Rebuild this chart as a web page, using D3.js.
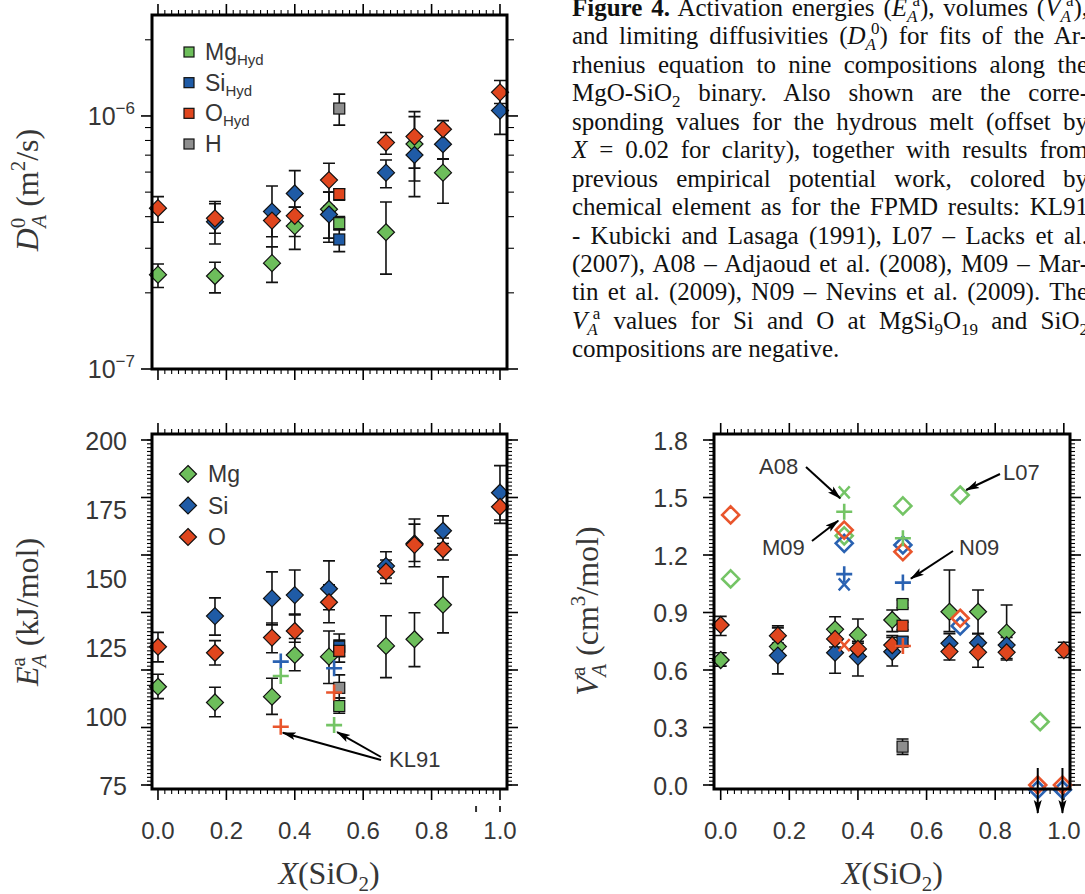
<!DOCTYPE html>
<html>
<head>
<meta charset="utf-8">
<script src="https://cdn.jsdelivr.net/npm/d3@7"></script>
<style>
  body { margin: 0; background: #fff; overflow: hidden; }
  svg { position: absolute; left: 0; top: 0; }
  .cap { position: absolute; left: 572px; top: -6px; font-family: "Liberation Serif", "Times New Roman", serif;
         font-size: 25px; color: #111; }
  .cap div { white-space: nowrap; width: 516px; height: 28.45px; line-height: 28.45px;
             text-align: justify; text-align-last: justify; }
  .cap div.last { text-align-last: left; }
  .cap .sb { font-size: 17px; position: relative; top: 6px; line-height: 0; }
  .cap .sp { font-size: 17px; position: relative; top: -10px; line-height: 0; margin-left: -5px; }
</style>
</head>
<body>
<script>
// compositions X(SiO2) of the nine FPMD melts, hydrous melt is offset
const comps = [0, 1/6, 1/3, 0.4, 0.5, 2/3, 0.75, 5/6, 1.0];
const hydX = 0.53;

// D_A^0 in units of 1e-7 m2/s
const d0Mg   = [2.36, 2.33, 2.62, 3.67, 4.28, 3.47, 7.75, 5.97, null];
const d0MgLo = [2.10, 2.00, 2.20, 2.97, 3.29, 2.37, 5.53, 4.52, null];
const d0MgHi = [2.60, 2.64, 3.04, 4.36, 5.00, 4.57, 9.94, 6.77, null];
const d0Si   = [null, 3.82, 4.19, 4.94, 4.08, 5.97, 7.01, 7.73, 10.5];
const d0SiLo = [null, 3.12, 3.33, 4.36, 3.17, 5.20, 4.80, 6.74, 8.46];
const d0SiHi = [null, 4.50, 5.29, 6.08, 5.00, 6.70, 8.40, 8.80, 12.6];
const d0O    = [4.32, 3.94, 3.86, 4.03, 5.58, 7.85, 8.29, 8.86, 12.4];
const d0OLo  = [3.80, 3.44, 3.04, 3.34, 4.40, 7.06, 6.22, 7.90, 11.2];
const d0OHi  = [4.80, 4.59, 4.30, 4.36, 6.50, 8.60, 10.4, 9.58, 13.8];
// hydrous melt: H, Mg, Si, O
const hydEls  = ['H', 'Mg', 'Si', 'O'];
const hydD0   = [10.7, 3.77, 3.25, 4.91];
const hydD0Lo = [9.2, 3.55, 2.91, 4.65];
const hydD0Hi = [12.2, 4.00, 3.55, 5.15];

// E_A^a in kJ/mol
const eaMg   = [110.6, 104.9, 107.0, 122.1, 121.5, 125.4, 127.8, 140.3, null];
const eaMgLo = [106.3, 99.7, 100.6, 116.4, 111.8, 113.9, 117.9, 130.1, null];
const eaMgHi = [115.1, 110.4, 113.7, 128.1, 130.8, 136.3, 137.4, 150.4, null];
const eaSi   = [null, 136.2, 142.6, 143.8, 146.1, 154.3, 162.5, 167.1, 180.9];
const eaSiLo = [null, 129.3, 133.0, 136.6, 138.5, 150.0, 156.0, 162.5, 171.0];
const eaSiHi = [null, 142.8, 152.2, 152.9, 156.2, 159.5, 171.4, 172.5, 190.7];
const eaO    = [125.1, 122.9, 128.4, 130.8, 141.2, 152.3, 162.0, 160.4, 175.8];
const eaOLo  = [119.6, 118.5, 122.9, 126.7, 133.8, 148.0, 154.1, 156.5, 169.8];
const eaOHi  = [130.3, 127.3, 133.7, 136.9, 147.5, 156.5, 169.5, 164.5, 181.5];
const hydEa   = [110.2, 103.6, 125.1, 123.6];
const hydEaLo = [106.5, 101.0, 121.5, 119.5];
const hydEaHi = [114.9, 106.5, 129.7, 127.5];

// V_A^a in cm3/mol
const vaMg   = [0.652, 0.722, 0.812, 0.783, 0.861, 0.904, 0.904, 0.795, null];
const vaMgLo = [0.62, 0.68, 0.76, 0.72, 0.80, 0.80, 0.79, 0.66, null];
const vaMgHi = [0.69, 0.76, 0.878, 0.866, 0.913, 1.122, 1.017, 0.939, null];
const vaSi   = [null, 0.675, 0.690, 0.670, 0.695, 0.739, 0.742, 0.730, null];
const vaSiLo = [null, 0.58, 0.583, 0.569, 0.621, 0.70, 0.70, 0.69, null];
const vaSiHi = [null, 0.83, 0.76, 0.74, 0.77, 0.79, 0.79, 0.77, null];
const vaO    = [0.835, 0.779, 0.762, 0.710, 0.730, 0.696, 0.692, 0.692, 0.704];
const vaOLo  = [0.78, 0.74, 0.72, 0.67, 0.69, 0.652, 0.614, 0.652, 0.665];
const vaOHi  = [0.88, 0.82, 0.80, 0.75, 0.78, 0.74, 0.75, 0.73, 0.745];
const hydVa   = [0.20, 0.944, 0.748, 0.831];
const hydVaLo = [0.16, 0.925, 0.73, 0.81];
const hydVaHi = [0.24, 0.965, 0.77, 0.85];

// previous empirical potential work
const kl91X  = [0.359, 0.359, 0.359, 0.515, 0.515, 0.515];
const kl91El = ['Si', 'Mg', 'O', 'Si', 'O', 'Mg'];
const kl91Ea = [119.7, 114.5, 96.1, 117.3, 108.5, 96.7];

const l07X  = [0.029, 0.029, 0.36, 0.36, 0.36, 0.531, 0.531, 0.531, 0.698, 0.698, 0.698, 0.931, 0.924, 0.924, 0.996, 0.996];
const l07El = ['Mg', 'O', 'Mg', 'Si', 'O', 'Mg', 'Si', 'O', 'Mg', 'Si', 'O', 'Mg', 'Si', 'O', 'Si', 'O'];
const l07Va = [1.075, 1.409, 1.30, 1.261, 1.33, 1.456, 1.252, 1.217, 1.513, 0.830, 0.870, 0.33, -0.025, 0, -0.025, 0];

const a08X  = [0.36, 0.36, 0.36];
const a08El = ['Mg', 'Si', 'O'];
const a08Va = [1.527, 1.047, 0.73];

const m09X  = [0.36, 0.36];
const m09El = ['Mg', 'Si'];
const m09Va = [1.426, 1.10];

const n09X  = [0.531, 0.531, 0.531];
const n09El = ['Mg', 'Si', 'O'];
const n09Va = [1.287, 1.056, 0.725];

// ticks
const xTickVals = [0, 0.2, 0.4, 0.6, 0.8, 1.0];
const xTickLabels = ['0.0', '0.2', '0.4', '0.6', '0.8', '1.0'];
const eaTickVals = [75, 100, 125, 150, 175, 200];
const vaTickVals = [0, 0.3, 0.6, 0.9, 1.2, 1.5, 1.8];
const d0TickExp = [-7, -6];

const captionLines = [
  '<b>Figure 4.</b> Activation energies (<i>E</i><span class="sb"><i>A</i></span><span class="sp">a</span>), volumes (<i>V</i><span class="sb"><i>A</i></span><span class="sp">a</span>),',
  'and limiting diffusivities (<i>D</i><span class="sb"><i>A</i></span><span class="sp">0</span>) for fits of the Ar-',
  'rhenius equation to nine compositions along the',
  'MgO-SiO<span class="sb">2</span> binary. Also shown are the corre-',
  'sponding values for the hydrous melt (offset by',
  '<i>X</i> = 0.02 for clarity), together with results from',
  'previous empirical potential work, colored by',
  'chemical element as for the FPMD results: KL91',
  '- Kubicki and Lasaga (1991), L07 – Lacks et al.',
  '(2007), A08 – Adjaoud et al. (2008), M09 – Mar-',
  'tin et al. (2009), N09 – Nevins et al. (2009). The',
  '<i>V</i><span class="sb"><i>A</i></span><span class="sp">a</span> values for Si and O at MgSi<span class="sb">9</span>O<span class="sb">19</span> and SiO<span class="sb">2</span>',
  'compositions are negative.'
];

const fill = { Mg: '#6dbe5b', Si: '#1f5ba6', O: '#e0461e', H: '#8e8e8e' };
const line = { Mg: '#74c465', Si: '#2a62b2', O: '#e9552c' };
const sans = '"Liberation Sans", Arial, Helvetica, sans-serif';
const serif = '"Liberation Serif", "Times New Roman", serif';
const txt = '#363636';

const svg = d3.select('body').append('svg').attr('width', 1085).attr('height', 894);
const defs = svg.append('defs');
defs.append('marker').attr('id', 'arr').attr('viewBox', '0 0 14 10')
  .attr('refX', 13).attr('refY', 5).attr('markerWidth', 14).attr('markerHeight', 10)
  .attr('markerUnits', 'userSpaceOnUse').attr('orient', 'auto')
  .append('path').attr('d', 'M0,1 L14,5 L0,9 L3,5 Z').attr('fill', '#000');

// scales
const xL = d3.scaleLinear().domain([-0.0175, 1.0205]).range([152, 507]);
const xR = d3.scaleLinear().domain([-0.0195, 1.018]).range([714, 1070]);
const yD = d3.scaleLog().domain([1e-7, 2.506e-6]).range([369, 15]);
const yE = d3.scaleLinear().domain([73.55, 202.17]).range([789, 434]);
const yV = d3.scaleLinear().domain([-0.0209, 1.8313]).range([789, 434]);

function series(vals, lo, hi, el, k) {
  return comps.map((c, i) => ({ x: c, v: vals[i], lo: lo[i], hi: hi[i], el }))
    .filter(d => d.v != null)
    .map(d => ({ ...d, v: d.v * k, lo: d.lo * k, hi: d.hi * k }));
}
function hydSeries(vals, lo, hi, k) {
  return hydEls.map((el, i) => ({ x: hydX, v: vals[i] * k, lo: lo[i] * k, hi: hi[i] * k, el }));
}

function frame(g, x, y) {
  const [xa, xb] = x.range(), [yb, ya] = y.range();
  g.append('rect').attr('x', xa).attr('y', ya).attr('width', xb - xa).attr('height', yb - ya)
    .attr('fill', 'none').attr('stroke', '#000').attr('stroke-width', 3);
}

function xTicks(g, x, y) {
  const [yb, ya] = y.range();
  const minor = d3.range(0, 51).map(k => k * 0.02).filter(v => !xTickVals.some(m => Math.abs(m - v) < 1e-6));
  const t = g.append('g').attr('stroke', '#000');
  const put = (vals, len, w) => {
    t.append('g').selectAll('line').data(vals).join('line')
      .attr('x1', d => x(d)).attr('x2', d => x(d)).attr('y1', yb).attr('y2', yb + len).attr('stroke-width', w);
    t.append('g').selectAll('line').data(vals).join('line')
      .attr('x1', d => x(d)).attr('x2', d => x(d)).attr('y1', ya).attr('y2', ya - len).attr('stroke-width', w);
  };
  put(minor, 5, 1.1);
  put(xTickVals, 11, 1.6);
}

function yTicks(g, x, y, major, minor, majLen, minLen) {
  const [xa, xb] = x.range();
  const t = g.append('g').attr('stroke', '#000');
  const put = (vals, len, w) => {
    t.append('g').selectAll('line').data(vals).join('line')
      .attr('y1', d => y(d)).attr('y2', d => y(d)).attr('x1', xa).attr('x2', xa - len).attr('stroke-width', w);
    t.append('g').selectAll('line').data(vals).join('line')
      .attr('y1', d => y(d)).attr('y2', d => y(d)).attr('x1', xb).attr('x2', xb + len).attr('stroke-width', w);
  };
  put(minor, minLen, 1.1);
  put(major, majLen, 1.6);
}

function xLabels(g, x) {
  g.append('g').selectAll('text').data(xTickVals).join('text')
    .attr('x', d => x(d)).attr('y', 839).attr('text-anchor', 'middle')
    .attr('font-family', sans).attr('font-size', 24).attr('fill', txt)
    .text((d, i) => xTickLabels[i]);
  const t = g.append('text').attr('x', x(0.5)).attr('y', 884).attr('text-anchor', 'middle')
    .attr('font-family', serif).attr('font-size', 32).attr('fill', txt);
  t.append('tspan').attr('font-style', 'italic').text('X');
  t.append('tspan').text('(SiO');
  t.append('tspan').attr('font-size', 21).attr('dy', 7).text('2');
  t.append('tspan').attr('dy', -7).text(')');
}

function yTitle(g, xPos, yPos, sym, sup, unit, unitSup, unitEnd) {
  const t = g.append('text').attr('transform', `translate(${xPos},${yPos}) rotate(-90)`)
    .attr('text-anchor', 'middle').attr('font-family', serif).attr('font-size', 32).attr('fill', txt);
  t.append('tspan').attr('font-style', 'italic').text(sym);
  t.append('tspan').attr('font-size', 21).attr('dy', -13).text(sup);
  t.append('tspan').attr('font-size', 21).attr('font-style', 'italic').attr('dx', -10).attr('dy', 21).text('A');
  t.append('tspan').attr('dy', -8).text(' (' + unit);
  t.append('tspan').attr('font-size', 21).attr('dy', -13).text(unitSup);
  t.append('tspan').attr('dy', 13).text(unitEnd);
}

function errorBars(g, pts, x, y) {
  g.append('g').selectAll('path').data(pts).join('path')
    .attr('d', d => {
      const cx = x(d.x), a = y(d.lo), b = y(d.hi);
      return `M${cx},${a}V${b}M${cx - 6},${a}H${cx + 6}M${cx - 6},${b}H${cx + 6}`;
    })
    .attr('fill', 'none').attr('stroke', '#111').attr('stroke-width', 1.6);
}

const diamond = s => `M0,${-s}L${s},0L0,${s}L${-s},0Z`;

function diamonds(g, pts, x, y) {
  g.append('g').selectAll('path').data(pts).join('path')
    .attr('transform', d => `translate(${x(d.x)},${y(d.v)})`)
    .attr('d', diamond(8.5)).attr('fill', d => fill[d.el])
    .attr('stroke', '#111').attr('stroke-width', 1.2);
}

function squares(g, pts, x, y) {
  g.append('g').selectAll('rect').data(pts).join('rect')
    .attr('x', d => x(d.x) - 5.5).attr('y', d => y(d.v) - 5.5).attr('width', 11).attr('height', 11)
    .attr('fill', d => fill[d.el]).attr('stroke', '#111').attr('stroke-width', 1.2);
}

function pluses(g, pts, x, y) {
  g.append('g').selectAll('path').data(pts).join('path')
    .attr('d', d => { const cx = x(d.x), cy = y(d.v); return `M${cx - 8},${cy}H${cx + 8}M${cx},${cy - 8}V${cy + 8}`; })
    .attr('stroke', d => line[d.el]).attr('stroke-width', 2.6).attr('fill', 'none');
}

function crosses(g, pts, x, y) {
  g.append('g').selectAll('path').data(pts).join('path')
    .attr('d', d => { const cx = x(d.x), cy = y(d.v);
      return `M${cx - 5.5},${cy - 6}L${cx + 5.5},${cy + 6}M${cx + 5.5},${cy - 6}L${cx - 5.5},${cy + 6}`; })
    .attr('stroke', d => line[d.el]).attr('stroke-width', 2.4).attr('fill', 'none');
}

function openDiamonds(g, pts, x, y) {
  g.append('g').selectAll('path').data(pts).join('path')
    .attr('transform', d => `translate(${x(d.x)},${y(Math.max(d.v, -0.025))})`)
    .attr('d', diamond(8.5)).attr('fill', 'none')
    .attr('stroke', d => line[d.el]).attr('stroke-width', 2.6);
}

function arrow(g, x1, y1, x2, y2) {
  g.append('line').attr('x1', x1).attr('y1', y1).attr('x2', x2).attr('y2', y2)
    .attr('stroke', '#000').attr('stroke-width', 2).attr('marker-end', 'url(#arr)');
}

function label(g, x, y, s) {
  g.append('text').attr('x', x).attr('y', y).attr('font-family', sans).attr('font-size', 22)
    .attr('fill', txt).text(s);
}

const zip = (xs, els, vs) => xs.map((x, i) => ({ x, el: els[i], v: vs[i] }));

// ---------------- top-left: D_A^0 ----------------
const gD = svg.append('g');
const d0Pts = [
  ...series(d0Mg, d0MgLo, d0MgHi, 'Mg', 1e-7),
  ...series(d0Si, d0SiLo, d0SiHi, 'Si', 1e-7),
  ...series(d0O, d0OLo, d0OHi, 'O', 1e-7)
];
const d0Hyd = hydSeries(hydD0, hydD0Lo, hydD0Hi, 1e-7);
xTicks(gD, xL, yD);
yTicks(gD, xL, yD, [1e-7, 1e-6],
  [2, 3, 4, 5, 6, 7, 8, 9].map(k => k * 1e-7).concat([2e-6]), 11, 7);
errorBars(gD, d0Pts, xL, yD);
errorBars(gD, d0Hyd, xL, yD);
diamonds(gD, d0Pts, xL, yD);
squares(gD, d0Hyd, xL, yD);
frame(gD, xL, yD);
gD.append('g').selectAll('text').data(d0TickExp).join('text')
  .attr('x', 135).attr('y', d => yD(Math.pow(10, d)) + 9).attr('text-anchor', 'end')
  .attr('font-family', sans).attr('font-size', 25).attr('fill', txt)
  .each(function (d) {
    const t = d3.select(this);
    t.append('tspan').text('10');
    t.append('tspan').attr('font-size', 17).attr('dy', -11).text('\u2212' + Math.abs(d));
  });
yTitle(gD, 38, 190, 'D', '0', 'm', '2', '/s)');
// legend
const legD = [['Mg', 'Hyd'], ['Si', 'Hyd'], ['O', 'Hyd'], ['H', '']];
const legDy = d3.scalePoint().domain(legD.map(d => d[0])).range([52, 144]);
legD.forEach(([el, sub]) => {
  const yy = legDy(el);
  gD.append('rect').attr('x', 184).attr('y', yy - 5).attr('width', 10).attr('height', 10)
    .attr('fill', fill[el]).attr('stroke', '#111').attr('stroke-width', 1.2);
  const t = gD.append('text').attr('x', 205).attr('y', yy + 8).attr('font-family', sans)
    .attr('font-size', 23).attr('fill', txt);
  t.append('tspan').text(el);
  if (sub) t.append('tspan').attr('font-size', 15).attr('dy', 5).text(sub);
});

// ---------------- bottom-left: E_A^a ----------------
const gE = svg.append('g');
const eaPts = [
  ...series(eaMg, eaMgLo, eaMgHi, 'Mg', 1),
  ...series(eaSi, eaSiLo, eaSiHi, 'Si', 1),
  ...series(eaO, eaOLo, eaOHi, 'O', 1)
];
const eaHyd = hydSeries(hydEa, hydEaLo, hydEaHi, 1);
xTicks(gE, xL, yE);
yTicks(gE, xL, yE, d3.range(7).map(k => 75 + k * 125 / 6), d3.range(91).map(k => 75 + k * 125 / 90), 11, 5);
errorBars(gE, eaPts, xL, yE);
errorBars(gE, eaHyd, xL, yE);
diamonds(gE, eaPts, xL, yE);
squares(gE, eaHyd, xL, yE);
pluses(gE, zip(kl91X, kl91El, kl91Ea), xL, yE);
frame(gE, xL, yE);
gE.append('g').selectAll('text').data(eaTickVals).join('text')
  .attr('x', 127).attr('y', d => yE(d) + 10).attr('text-anchor', 'end')
  .attr('font-family', sans).attr('font-size', 25).attr('fill', txt).text(d => d);
xLabels(gE, xL);
yTitle(gE, 38, 612, 'E', 'a', 'kJ/mol)', '', '');
// small arrow stubs below the axis
gE.append('g').selectAll('line').data([0.93, 1.0]).join('line')
  .attr('x1', d => xL(d)).attr('x2', d => xL(d)).attr('y1', 806).attr('y2', 812)
  .attr('stroke', '#333').attr('stroke-width', 2);
// legend
['Mg', 'Si', 'O'].forEach((el, i) => {
  const yy = 474 + i * 31.5;
  gE.append('path').attr('transform', `translate(188,${yy})`).attr('d', diamond(8.5))
    .attr('fill', fill[el]).attr('stroke', '#111').attr('stroke-width', 1.2);
  gE.append('text').attr('x', 208).attr('y', yy + 8).attr('font-family', sans)
    .attr('font-size', 23).attr('fill', txt).text(el);
});
// KL91 annotation
label(gE, 389, 767, 'KL91');
arrow(gE, 381, 760, xL(kl91X[2]) + 2, yE(kl91Ea[2]) + 6);
arrow(gE, 381, 757, xL(kl91X[5]) + 3, yE(kl91Ea[5]) + 7);

// ---------------- bottom-right: V_A^a ----------------
const gV = svg.append('g');
const vaPts = [
  ...series(vaMg, vaMgLo, vaMgHi, 'Mg', 1),
  ...series(vaSi, vaSiLo, vaSiHi, 'Si', 1),
  ...series(vaO, vaOLo, vaOHi, 'O', 1)
];
const vaHyd = hydSeries(hydVa, hydVaLo, hydVaHi, 1);
xTicks(gV, xR, yV);
yTicks(gV, xR, yV, vaTickVals, d3.range(91).map(k => k * 0.02), 11, 5);
errorBars(gV, vaPts, xR, yV);
errorBars(gV, vaHyd, xR, yV);
diamonds(gV, vaPts, xR, yV);
squares(gV, vaHyd, xR, yV);
const l07Pts = zip(l07X, l07El, l07Va);
openDiamonds(gV, l07Pts, xR, yV);
crosses(gV, zip(a08X, a08El, a08Va), xR, yV);
pluses(gV, zip(m09X, m09El, m09Va), xR, yV);
pluses(gV, zip(n09X, n09El, n09Va), xR, yV);
frame(gV, xR, yV);
// negative values: arrows pointing down
gV.append('g').selectAll('line').data(l07Pts.filter(d => d.v === 0)).join('line')
  .attr('x1', d => xR(d.x)).attr('x2', d => xR(d.x)).attr('y1', d => yV(d.v) - 17).attr('y2', d => yV(d.v) + 28)
  .attr('stroke', '#000').attr('stroke-width', 2).attr('marker-end', 'url(#arr)');
gV.append('g').selectAll('text').data(vaTickVals).join('text')
  .attr('x', 688).attr('y', d => yV(d) + 10).attr('text-anchor', 'end')
  .attr('font-family', sans).attr('font-size', 25).attr('fill', txt).text(d => d.toFixed(1));
xLabels(gV, xR);
yTitle(gV, 598, 611, 'V', 'a', 'cm', '3', '/mol)');
// annotations
label(gV, 759, 474, 'A08');
arrow(gV, 806, 467, xR(a08X[0]) - 4, yV(a08Va[0]) + 6);
label(gV, 1003, 480, 'L07');
arrow(gV, 1000, 474, xR(l07X[8]) + 6, yV(l07Va[8]) - 5);
label(gV, 762, 555, 'M09');
arrow(gV, 812, 541, xR(m09X[0]) - 6, yV(m09Va[0]) + 9);
label(gV, 959, 555, 'N09');
arrow(gV, 953, 551, xR(n09X[1]) + 8, yV(n09Va[1]) - 4);

// ---------------- caption ----------------
d3.select('body').append('div').attr('class', 'cap')
  .selectAll('div').data(captionLines).join('div')
  .classed('last', (d, i) => i === captionLines.length - 1)
  .html(d => d);
</script>
</body>
</html>
